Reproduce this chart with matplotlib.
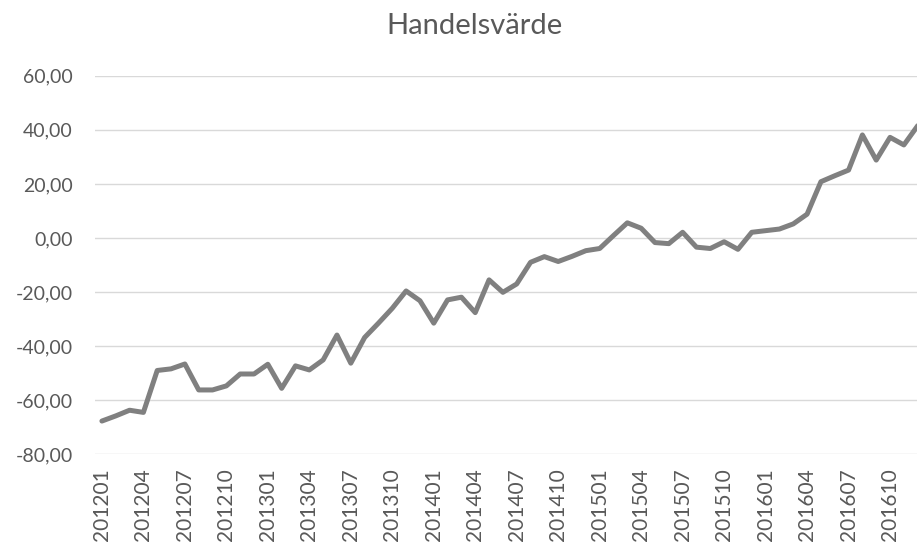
import matplotlib
matplotlib.use("Agg")
import matplotlib.pyplot as plt

plt.rcParams['font.family'] = ['Lato', 'DejaVu Sans']

months = [f"{y}{m:02d}" for y in range(2012, 2017) for m in range(1, 13)]
values = [-67.7, -65.8, -63.7, -64.5, -49.0, -48.4, -46.6, -56.2, -56.2, -54.7,
          -50.3, -50.3, -46.7, -55.6, -47.3, -48.8, -45.1, -35.9, -46.3, -36.8,
          -31.5, -26.0, -19.6, -23.2, -31.5, -22.9, -21.9, -27.6, -15.5, -20.1,
          -17.0, -9.0, -6.9, -8.7, -6.8, -4.7, -3.9, 0.9, 5.6, 3.6,
          -1.7, -2.1, 2.1, -3.4, -3.9, -1.4, -4.2, 2.1, 2.7, 3.3,
          5.2, 8.8, 20.8, 23.0, 25.1, 38.1, 28.8, 37.2, 34.4, 41.5]
yticks = [-80, -60, -40, -20, 0, 20, 40, 60]

text_col = '#595959'

fig = plt.figure(figsize=(9.17, 5.45), dpi=100)
ax = fig.add_axes([0.1036, 0.1664, 0.9047, 0.6947])

x = list(range(len(values)))
ax.plot(x, values, color='#808080', linewidth=3.6, solid_joinstyle='round',
        solid_capstyle='round', zorder=3)

ax.set_xlim(-0.5, len(values) - 0.5)
ax.set_ylim(-80, 60)
ax.set_yticks(yticks)
ax.set_yticklabels([f"{v},00" for v in yticks])
ax.set_xticks(x[::3])
ax.set_xticklabels(months[::3], rotation=90)

ax.grid(axis='y', color='#d9d9d9', linewidth=1.0)
ax.set_axisbelow(True)
for s in ax.spines.values():
    s.set_visible(False)
ax.tick_params(axis='both', length=0, colors=text_col, labelsize=14)
ax.tick_params(axis='x', labelsize=15, pad=10)
ax.tick_params(axis='y', pad=16)

fig.text(0.517, 0.952, 'Handelsvärde', ha='center', va='center',
         fontsize=21, color=text_col)

fig.savefig('out.png', dpi=100)
